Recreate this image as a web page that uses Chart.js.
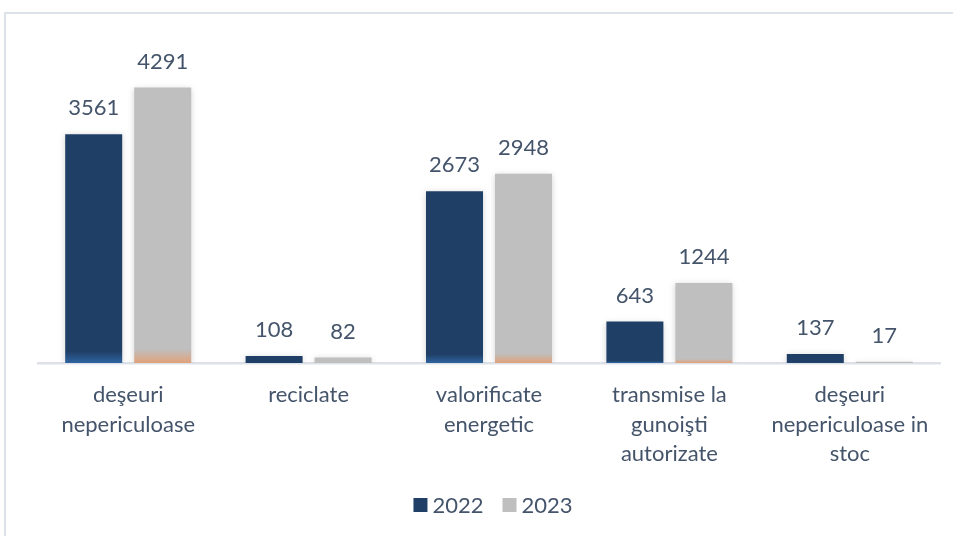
<!DOCTYPE html>
<html>
<head>
<meta charset="utf-8">
<script src="https://cdn.jsdelivr.net/npm/chart.js@4.4.1/dist/chart.umd.min.js"></script>
<style>
  html, body { margin: 0; padding: 0; background: #fff; }
  #wrap { width: 953px; height: 536px; position: relative; }
</style>
</head>
<body>
<div id="wrap"><canvas id="deseuri"></canvas></div>
<script>
// categorii si valori (tone)
var categories = [
    ["deşeuri", "nepericuloase"],
    ["reciclate"],
    ["valorificate", "energetic"],
    ["transmise la", "gunoişti", "autorizate"],
    ["deşeuri", "nepericuloase in", "stoc"]
];
var values2022 = [3561, 108, 2673, 643, 137];
var values2023 = [4291, 82, 2948, 1244, 17];
var seriesLabels = ["2022", "2023"];
var seriesColors = ["#1F3F66", "#BFBFBF"];
var seriesBottom = ["#2F64A0", "#E0A27A"];

var textColor = "#44546A";
var fontFamily = "Lato, 'Open Sans', sans-serif";

// culoare cu gradient la baza barei
function barFill(solid, bottom) {
    return function (context) {
        var chart = context.chart;
        if (context.type !== 'data' || !chart.chartArea || !chart.scales.y) return solid;
        var y = chart.scales.y;
        var top = y.getPixelForValue(context.parsed.y);
        var base = y.getPixelForValue(0);
        if (!isFinite(top) || base - top < 1) return solid;
        var g = chart.ctx.createLinearGradient(0, top, 0, base);
        g.addColorStop(0, solid);
        g.addColorStop(0.95, solid);
        g.addColorStop(1, bottom);
        return g;
    };
}

// cadru + umbra + etichete de valori + legenda
var extras = {
    id: 'extras',
    beforeDraw: function (chart) {
        var ctx = chart.ctx;
        ctx.save();
        ctx.strokeStyle = "#DDE2E8";
        ctx.lineWidth = 2;
        ctx.strokeRect(5, 13, 1000, 1000);
        ctx.restore();
    },
    beforeDatasetsDraw: function (chart) {
        var ctx = chart.ctx;
        ctx.save();
        ctx.shadowColor = "rgba(0,0,0,0.18)";
        ctx.shadowBlur = 6;
        ctx.shadowOffsetY = 1;
    },
    afterDatasetsDraw: function (chart) {
        var ctx = chart.ctx;
        ctx.restore();
        ctx.save();
        ctx.fillStyle = textColor;
        ctx.font = "22px " + fontFamily;
        ctx.textAlign = "center";
        ctx.textBaseline = "alphabetic";
        chart.data.datasets.forEach(function (ds, i) {
            var meta = chart.getDatasetMeta(i);
            meta.data.forEach(function (bar, j) {
                ctx.fillText(String(ds.data[j]), bar.x, bar.y - 19);
            });
        });
        ctx.restore();
    },
    afterDraw: function (chart) {
        // legenda jos, centrata
        var ctx = chart.ctx;
        ctx.save();
        ctx.font = "22px " + fontFamily;
        ctx.textBaseline = "middle";
        var box = 14, gap = 5, spacing = 19;
        var widths = seriesLabels.map(function (t) { return ctx.measureText(t).width; });
        var total = 0;
        widths.forEach(function (w, i) { total += box + gap + w + (i ? spacing : 0); });
        var area = chart.chartArea;
        var x = (area.left + area.right) / 2 + 4 - total / 2;
        var yc = 505;
        seriesLabels.forEach(function (t, i) {
            ctx.fillStyle = seriesColors[i];
            ctx.fillRect(x, yc - box / 2, box, box);
            ctx.fillStyle = textColor;
            ctx.fillText(t, x + box + gap, yc + 1);
            x += box + gap + widths[i] + spacing;
        });
        ctx.restore();
    }
};

var ctx1 = document.getElementById("deseuri");
var chart = new Chart(ctx1, {
    type: 'bar',
    data: {
        labels: categories,
        datasets: [{
            label: seriesLabels[0],
            data: values2022,
            backgroundColor: barFill(seriesColors[0], seriesBottom[0]),
            categoryPercentage: 0.765,
            barPercentage: 0.826
        }, {
            label: seriesLabels[1],
            data: values2023,
            backgroundColor: barFill(seriesColors[1], seriesBottom[1]),
            categoryPercentage: 0.765,
            barPercentage: 0.826
        }]
    },
    options: {
        responsive: true,
        maintainAspectRatio: false,
        animation: false,
        layout: { padding: { left: 38, right: 13, top: 42, bottom: 58 } },
        plugins: {
            legend: { display: false },
            tooltip: { enabled: false }
        },
        scales: {
            x: {
                grid: { display: false },
                border: { color: "#DDE2E8", width: 2.5 },
                ticks: {
                    color: textColor,
                    font: { family: fontFamily, size: 22, lineHeight: 1.32 },
                    padding: 10,
                    maxRotation: 0,
                    autoSkip: false
                }
            },
            y: {
                display: false,
                min: 0,
                max: 5000
            }
        }
    },
    plugins: [extras]
});
</script>
</body>
</html>
